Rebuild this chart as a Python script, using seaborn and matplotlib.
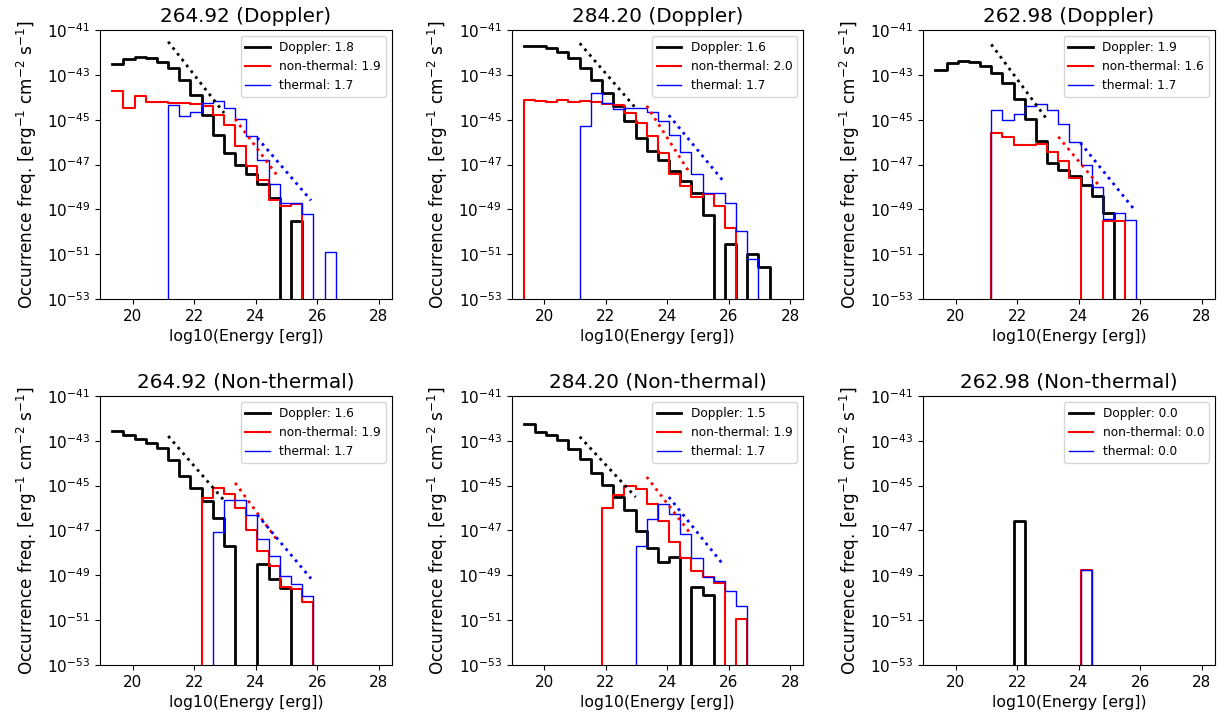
import numpy as np
import pandas as pd
import matplotlib
matplotlib.use('Agg')
import matplotlib.pyplot as plt
from matplotlib.ticker import FixedLocator, NullLocator
import seaborn as sns

# histogram binning in log10(Energy [erg])
E_LO, E_HI, N_BINS = 19.33, 27.33, 22

TITLES = [
    '264.92 (Doppler)', '284.20 (Doppler)', '262.98 (Doppler)',
    '264.92 (Non-thermal)', '284.20 (Non-thermal)', '262.98 (Non-thermal)',
]
SERIES = ['Doppler', 'non-thermal', 'thermal']
COLORS = ['black', 'red', 'blue']
WIDTHS = [2.0, 1.5, 1.0]

# log10 occurrence frequency per bin (None = empty bin)
p1_dop = [-42.53, -42.30, -42.21, -42.26, -42.41, -42.70, -43.22, -43.89, -44.78, -45.67, -46.48,
          -47.00, -47.42, -47.89, -48.50, None, -49.53, None, None, None, None, None]
p1_nth = [-43.74, -44.48, -43.96, -44.19, -44.23, -44.26, -44.27, -44.30, -44.41, -44.78, -45.22,
          -46.19, -47.07, -47.67, -48.56, -48.85, -48.78, None, None, None, None, None]
p1_th = [None, None, None, None, None, -44.33, -44.85, -44.66, -44.26, -44.16, -44.48,
         -44.96, -45.74, -46.78, -47.86, -48.70, -48.70, -49.19, None, -50.90, None, None]

p2_dop = [-41.71, -41.71, -41.79, -41.99, -42.26, -42.70, -43.22, -43.79, -44.41, -45.07, -45.81,
          -46.40, -46.80, -47.29, -47.74, -48.26, -49.26, None, -50.56, None, -50.97, -51.59]
p2_nth = [-44.11, -44.16, -44.20, -44.11, -44.21, -44.16, -44.21, -44.29, -44.36, -44.70, -45.15,
          -45.74, -46.50, -47.42, -47.94, -48.45, -48.33, -48.85, -49.84, None, None, None]
p2_th = [None, None, None, None, None, -45.30, -43.79, -44.26, -44.53, -44.48, -44.48,
         -44.66, -45.07, -45.67, -46.45, -47.43, -48.28, -48.28, -48.72, -49.97, -51.23, None]

p3_dop = [-42.78, -42.45, -42.36, -42.41, -42.60, -42.90, -43.37, -44.07, -44.96, -45.96, -46.93,
          -47.25, -47.52, -47.93, -48.41, -49.18, None, None, None, None, None, None]
p3_nth = [None, None, None, None, None, -45.59, -45.79, -46.14, -46.11, -46.07, -46.45,
          -46.82, -47.62, None, None, -49.52, -49.52, None, None, None, None, None]
p3_th = [None, None, None, None, None, -44.56, -45.03, -44.75, -44.41, -44.29, -44.58,
         -45.18, -45.99, -47.04, -47.99, -49.44, -49.15, -49.48, None, None, None, None]

p4_dop = [-42.57, -42.75, -42.90, -43.09, -43.34, -43.87, -44.55, -45.10, -45.70, -46.45, -47.70,
          None, None, -48.50, -49.15, -49.58, None, None, None, None, None, None]
p4_nth = [None, None, None, None, None, None, None, None, -45.54, -45.12, -45.36,
          -46.02, -46.96, -47.93, -48.57, -49.54, -49.60, -50.21, None, None, None, None]
p4_th = [None, None, None, None, None, None, None, None, None, -47.06, -45.62,
         -45.62, -46.29, -47.36, -48.15, -49.03, -49.39, -49.92, None, None, None, None]

p5_dop = [-42.27, -42.60, -42.75, -42.97, -43.37, -43.82, -44.43, -44.96, -45.50, -46.09, -47.02,
          -47.77, -48.42, -48.18, None, -49.51, -49.86, None, None, None, None, None]
p5_nth = [None, None, None, None, None, None, None, -46.02, -45.42, -45.01, -45.17,
          -45.81, -46.58, -47.52, -48.25, -48.79, -49.08, -49.34, None, -50.96, None, None]
p5_th = [None, None, None, None, None, None, None, None, None, None, -47.69,
         -46.50, -45.83, -46.27, -47.17, -48.21, -49.07, -49.27, -49.68, -50.35, None, None]

p6_dop = [None, None, None, None, None, None, None, -46.60, None, None, None,
          None, None, None, None, None, None, None, None, None, None, None]
p6_nth = [None, None, None, None, None, None, None, None, None, None, None,
          None, None, -48.76, None, None, None, None, None, None, None, None]
p6_th = [None, None, None, None, None, None, None, None, None, None, None,
         None, None, -48.76, None, None, None, None, None, None, None, None]

# power-law index shown in the legend
alphas = [
    [1.8, 1.9, 1.7], [1.6, 2.0, 1.7], [1.9, 1.6, 1.7],
    [1.6, 1.9, 1.7], [1.5, 1.9, 1.7], [0.0, 0.0, 0.0],
]

# fit ranges in log10(E) and fitted log10 freq at both ends
FIT_X = [(21.15, 22.97), (23.33, 24.72), (24.05, 25.80)]
fit_p1 = [(-41.52, -44.70), (-44.97, -47.53), (-45.81, -48.60)]
fit_p2 = [(-41.59, -44.48), (-44.38, -47.35), (-44.80, -47.70)]
fit_p3 = [(-41.64, -45.00), (-45.76, -48.04), (-46.03, -49.00)]
fit_p4 = [(-42.79, -45.66), (-44.88, -47.47), (-46.30, -49.15)]
fit_p5 = [(-42.82, -45.51), (-44.61, -47.08), (-45.51, -48.49)]

PANELS = [
    (p1_dop, p1_nth, p1_th), (p2_dop, p2_nth, p2_th), (p3_dop, p3_nth, p3_th),
    (p4_dop, p4_nth, p4_th), (p5_dop, p5_nth, p5_th), (p6_dop, p6_nth, p6_th),
]
FITS = [fit_p1, fit_p2, fit_p3, fit_p4, fit_p5, None]
# (panel, series) whose histogram starts with an empty bin below E_LO
LEAD_EMPTY = {(1, 1)}


def draw_hist(ax, logvals, color, lw, label, lead_empty=False):
    edges = np.linspace(E_LO, E_HI, N_BINS + 1)
    width = edges[1] - edges[0]
    weights = [0.0 if v is None else 10.0 ** v for v in logvals]
    # one extra empty bin so the last step drops to the axis
    edges = np.append(edges, edges[-1] + width)
    weights = weights + [0.0]
    if lead_empty:
        edges = np.insert(edges, 0, edges[0] - width)
        weights = [0.0] + weights
    df = pd.DataFrame({'energy': (edges[:-1] + edges[1:]) / 2, 'freq': weights})
    sns.histplot(data=df, x='energy', weights='freq', bins=edges.tolist(), element='step',
                 fill=False, color=color, linewidth=lw, label=label, ax=ax)


def draw_fit(ax, x_rng, y_rng, color):
    df = pd.DataFrame({'energy': list(x_rng), 'freq': [10.0 ** y for y in y_rng]})
    sns.lineplot(data=df, x='energy', y='freq', color=color, linestyle=':',
                 linewidth=2, ax=ax)


def main():
    fig, axes = plt.subplots(2, 3, figsize=(12.25, 7.25), dpi=100)
    fig.subplots_adjust(left=0.0816, right=0.9918, bottom=0.0828, top=0.9586,
                        wspace=0.41, hspace=0.36)

    for idx, ax in enumerate(axes.flat):
        for s, vals in enumerate(PANELS[idx]):
            draw_hist(ax, vals, COLORS[s], WIDTHS[s], f'{SERIES[s]}: {alphas[idx][s]:.1f}',
                      lead_empty=(idx, s) in LEAD_EMPTY)
        if FITS[idx] is not None:
            for s, y_rng in enumerate(FITS[idx]):
                draw_fit(ax, FIT_X[s], y_rng, COLORS[s])

        ax.set_yscale('log', nonpositive='clip')
        ax.set_ylim(1e-53, 1e-41)
        ax.set_xlim(18.93, 28.43)
        ax.yaxis.set_major_locator(FixedLocator(10.0 ** np.arange(-53, -40, 2)))
        ax.yaxis.set_minor_locator(NullLocator())
        ax.set_xticks([20, 22, 24, 26, 28])
        ax.tick_params(labelsize=11)
        ax.set_title(TITLES[idx], fontsize=14.4)
        ax.set_xlabel('log10(Energy [erg])', fontsize=11.3)
        ax.set_ylabel('Occurrence freq. [erg$^{-1}$ cm$^{-2}$ s$^{-1}$]', fontsize=12.2,
                      labelpad=6)
        ax.legend(loc='upper right', fontsize=8.7)

    fig.savefig('out.png', dpi=100)
    plt.close(fig)


if __name__ == '__main__':
    main()
